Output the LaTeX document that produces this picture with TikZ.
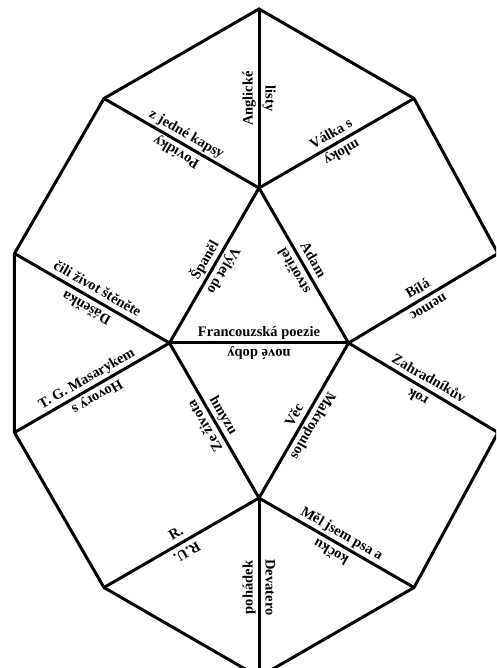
\documentclass[tikz,border=0pt]{standalone}
\usepackage{fontspec}
\setmainfont{Liberation Serif}
\usetikzlibrary{calc}
\newcommand\edgelab[4]{\node[lab, rotate=#2] (#1) at ($(#3)+({#2+90}:6.5)$) {#4};}
\begin{document}
\begin{tikzpicture}[x=1pt,y=1pt,
  edge/.style={line width=3pt, line join=miter, line cap=butt},
  lab/.style={font=\fontsize{14.5}{16}\selectfont\bfseries, inner sep=0pt, anchor=base}]
\path[use as bounding box] (0,0) rectangle (496,668);
% inner vertices
\coordinate (T) at (259,480.02);
\coordinate (B) at (259,169.98);
\coordinate (L) at (169.5,325);
\coordinate (R) at (348.5,325);
% outer vertices
\coordinate (Top) at (259,659.02);
\coordinate (UL) at (103.98,569.52);
\coordinate (UR) at (414.02,569.52);
\coordinate (L1) at (14.48,414.5);
\coordinate (L2) at (14.48,235.5);
\coordinate (R1) at (498,414.5);
\coordinate (R2) at (498,235.5);
\coordinate (LL) at (103.98,80.48);
\coordinate (LR) at (414.02,80.48);
\coordinate (Bot) at (259,-9.02);
\begin{scope}
\clip (0,0) rectangle (496,668);
\draw[edge] (Top) -- (UL) -- (L1) -- (L2) -- (LL) -- (Bot) -- (LR) -- (R2) -- (R1) -- (UR) -- cycle;
\draw[edge] (Top) -- (T);
\draw[edge] (UL) -- (T) -- (UR);
\draw[edge] (L1) -- (L) -- (L2);
\draw[edge] (R1) -- (R) -- (R2);
\draw[edge] (LL) -- (B) -- (LR);
\draw[edge] (B) -- (Bot);
\draw[edge] (T) -- (L) -- (B) -- (R) -- cycle;
\draw[edge] (L) -- (R);
\end{scope}
% midpoints of labelled edges
\path (Top) -- (T) coordinate[midway] (m1);
\path (UL) -- (T) coordinate[midway] (m2);
\path (T) -- (UR) coordinate[midway] (m3);
\path (T) -- (L) coordinate[midway] (m4);
\path (T) -- (R) coordinate[midway] (m5);
\path (L) -- (R) coordinate[midway] (m6);
\path (L1) -- (L) coordinate[midway] (m7);
\path (L2) -- (L) coordinate[midway] (m8);
\path (L) -- (B) coordinate[midway] (m9);
\path (R) -- (B) coordinate[midway] (m10);
\path (R) -- (R1) coordinate[midway] (m11);
\path (R) -- (R2) coordinate[midway] (m12);
\path (B) -- (LL) coordinate[midway] (m13);
\path (B) -- (LR) coordinate[midway] (m14);
\path (B) -- (Bot) coordinate[midway] (m15);
% labels
\edgelab{a1}{90}{m1}{Anglické}
\edgelab{b1}{-90}{m1}{listy}
\edgelab{a2}{-30}{m2}{z jedné kapsy}
\edgelab{b2}{150}{m2}{Povídky}
\edgelab{a3}{30}{m3}{Válka s}
\edgelab{b3}{210}{m3}{mloky}
\edgelab{a4}{60}{m4}{Španěl}
\edgelab{b4}{240}{m4}{Výlet do}
\edgelab{a5}{-60}{m5}{Adam}
\edgelab{b5}{120}{m5}{stvořitel}
\edgelab{a6}{0}{m6}{Francouzská poezie}
\edgelab{b6}{180}{m6}{nové doby}
\edgelab{a7}{-30}{m7}{čili život štěněte}
\edgelab{b7}{150}{m7}{Dášeňka}
\edgelab{a8}{30}{m8}{T. G. Masarykem}
\edgelab{b8}{210}{m8}{Hovory s}
\edgelab{a9}{-60}{m9}{hmyzu}
\edgelab{b9}{120}{m9}{Ze života}
\edgelab{a10}{60}{m10}{Věc}
\edgelab{b10}{-120}{m10}{Makropulos}
\edgelab{a11}{30}{m11}{Bílá}
\edgelab{b11}{210}{m11}{nemoc}
\edgelab{a12}{-30}{m12}{Zahradníkův}
\edgelab{b12}{150}{m12}{rok}
\edgelab{a13}{30}{m13}{R.}
\edgelab{b13}{210}{m13}{R.U.}
\edgelab{a14}{-30}{m14}{Měl jsem psa a}
\edgelab{b14}{150}{m14}{kočku}
\edgelab{a15}{90}{m15}{pohádek}
\edgelab{b15}{-90}{m15}{Devatero}
\end{tikzpicture}
\end{document}
